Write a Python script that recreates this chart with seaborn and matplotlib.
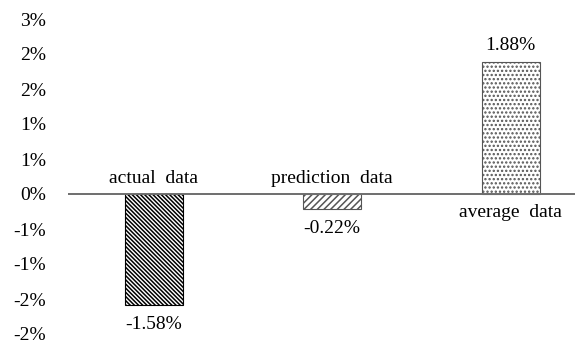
import matplotlib
matplotlib.use("Agg")
import matplotlib.pyplot as plt
import seaborn as sns
import pandas as pd

categories = ["actual data", "prediction data", "average data"]
values = [-1.58, -0.22, 1.88]          # percent
tick_values = [-2.0, -1.5, -1.0, -0.5, 0.0, 0.5, 1.0, 1.5, 2.0, 2.5]
tick_labels = ["-2%", "-2%", "-1%", "-1%", "0%", "1%", "1%", "2%", "2%", "3%"]

sns.set_theme(style="white")
plt.rcParams["font.family"] = ["Liberation Serif", "DejaVu Serif"]
plt.rcParams["hatch.linewidth"] = 1.1

df = pd.DataFrame({"category": categories, "value": values})

fig = plt.figure(figsize=(5.76, 3.47), dpi=100)
ax = fig.add_axes([68 / 576, 13 / 347, 507 / 576, 315 / 347])

sns.barplot(data=df, x="category", y="value", order=categories,
            width=0.325, color="white", ax=ax)

styles = [("\\" * 8, "#000000"), ("/" * 5, "#555555"), ("....", "#555555")]
for patch, (hatch, col) in zip(ax.patches, styles):
    patch.set_facecolor("white")
    patch.set_hatch(hatch)
    patch.set_edgecolor(col)
    patch.set_linewidth(0.8)

ax.axhline(0, color="#6e6e6e", lw=1.4, zorder=3)

ax.set_xlim(-0.48, 2.36)
ax.set_ylim(-2.0, 2.5)
ax.set_yticks(tick_values)
ax.set_yticklabels(tick_labels)
ax.set_xticks([])
ax.set_xlabel("")
ax.set_ylabel("")
ax.tick_params(axis="y", length=0, pad=16, labelsize=14, labelcolor="black")
for s in ax.spines.values():
    s.set_visible(False)

text_kw = dict(textcoords="offset points", ha="center", va="center",
               fontsize=14, color="black")
for i, (cat, v) in enumerate(zip(categories, values)):
    label = cat.replace(" ", "  ")
    if v < 0:
        ax.annotate(label, (i, 0), xytext=(0, 11), **text_kw)
        ax.annotate(f"{v:.2f}%", (i, v), xytext=(0, -14), **text_kw)
    else:
        ax.annotate(label, (i, 0), xytext=(0, -13), **text_kw)
        ax.annotate(f"{v:.2f}%", (i, v), xytext=(0, 12), **text_kw)

fig.savefig("out.png", dpi=100)
